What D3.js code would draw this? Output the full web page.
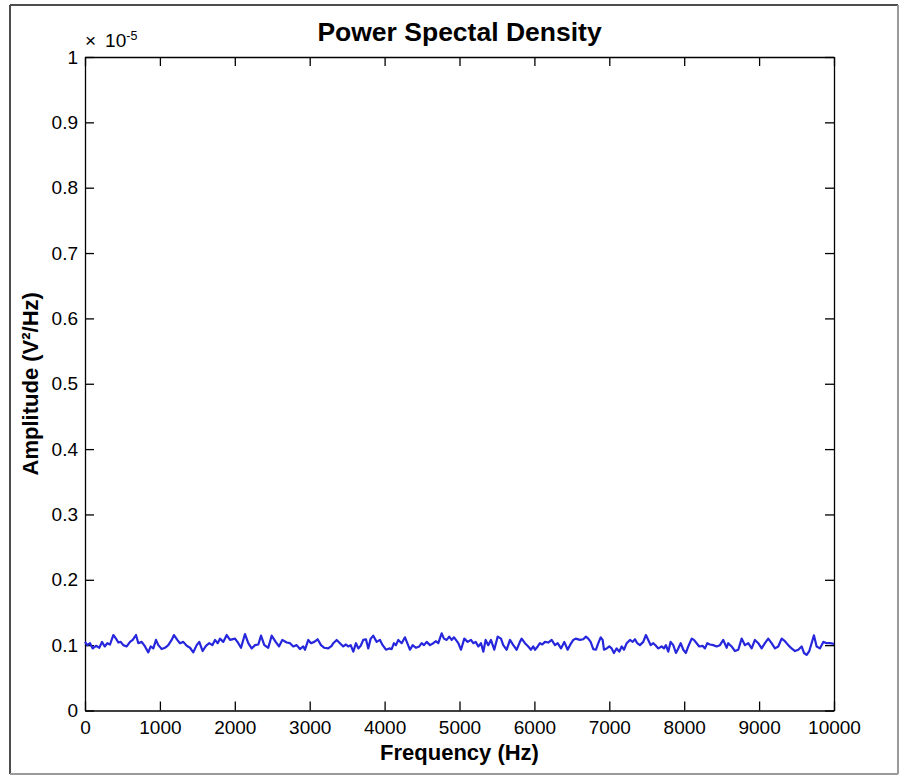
<!DOCTYPE html>
<html>
<head>
<meta charset="utf-8">
<script src="https://cdn.jsdelivr.net/npm/d3@7"></script>
<style>
  body { margin: 0; background: #fff; }
  text { font-family: Arial, "Liberation Sans", sans-serif; }
</style>
</head>
<body>
<div id="chart"></div>
<script>
// Frequency grid (Hz)
const freqHz = [
  0, 31, 67, 103, 147, 191, 227, 263, 298, 334,
  378, 414, 445, 477, 511, 557, 601, 637, 681, 712,
  757, 801, 845, 877, 912, 948, 979, 1024, 1068, 1112,
  1157, 1188, 1232, 1268, 1312, 1358, 1402, 1446, 1491, 1526,
  1571, 1615, 1659,
  1700, 1736, 1772, 1802, 1846, 1892, 1936, 2003, 2047, 2083,
  2136, 2180, 2225, 2270, 2314, 2350, 2394, 2447, 2492, 2546,
  2590, 2634, 2693, 2737, 2781, 2826, 2870, 2914, 2937, 2981,
  3017, 3061, 3106, 3151, 3195, 3248, 3293,
  3315, 3360, 3404, 3448, 3484, 3515, 3547, 3582, 3618, 3649,
  3681, 3715, 3751, 3782, 3814, 3849, 3894, 3938, 3974, 4018,
  4062, 4094, 4125, 4152, 4183, 4228, 4272, 4303, 4339, 4375,
  4419, 4463, 4495, 4526, 4562, 4606, 4650, 4686, 4717, 4762,
  4793, 4829, 4863, 4895, 4926,
  4940, 4984, 5020, 5064, 5109, 5153, 5184, 5216, 5251, 5287,
  5318, 5349, 5384, 5420, 5464, 5510, 5554, 5584, 5630, 5674,
  5718, 5763, 5807, 5830, 5874, 5918, 5954, 5985, 6008, 6044,
  6074, 6105, 6141, 6185, 6230, 6275, 6311, 6355, 6399, 6444,
  6475, 6519, 6551,
  6608, 6652, 6688, 6719, 6751, 6786, 6822, 6853, 6885, 6911,
  6929, 6965, 7000, 7031, 7062, 7098, 7133, 7165, 7196, 7232,
  7276, 7312, 7343, 7373, 7409, 7453, 7489, 7520, 7552, 7587,
  7623, 7654, 7699, 7730, 7756, 7787, 7819, 7854, 7890, 7921,
  7953, 7988, 8023, 8054, 8100, 8130, 8166, 8201, 8246, 8277,
  8308, 8344,
  8388, 8433, 8477, 8521, 8567, 8588, 8633, 8678, 8722, 8767,
  8811, 8855, 8901, 8944, 8989, 9034, 9078, 9122, 9167, 9212,
  9256, 9301, 9345, 9389, 9434, 9479, 9523, 9568, 9599, 9635,
  9670, 9701, 9732, 9768, 9812, 9857, 9902, 9946, 10000
];

// PSD in units of 1e-5 V^2/Hz
const psd = [
  0.105, 0.100, 0.103, 0.095, 0.099, 0.096, 0.105, 0.098, 0.103, 0.101,
  0.1155, 0.110, 0.104, 0.105, 0.100, 0.098, 0.105, 0.108, 0.1155, 0.103,
  0.105, 0.098, 0.089, 0.098, 0.095, 0.108, 0.100, 0.094, 0.096, 0.100,
  0.108, 0.1155, 0.108, 0.103, 0.105, 0.099, 0.096, 0.089, 0.100, 0.105,
  0.091, 0.099, 0.103,
  0.100, 0.108, 0.103, 0.110, 0.105, 0.1155, 0.108, 0.110, 0.103, 0.096,
  0.117, 0.103, 0.095, 0.100, 0.101, 0.1145, 0.100, 0.096, 0.1145, 0.105,
  0.098, 0.108, 0.104, 0.103, 0.098, 0.100, 0.094, 0.098, 0.093, 0.108,
  0.103, 0.105, 0.109, 0.100, 0.096, 0.095, 0.099,
  0.103, 0.108, 0.103, 0.098, 0.101, 0.098, 0.100, 0.090, 0.103, 0.095,
  0.099, 0.108, 0.109, 0.095, 0.110, 0.1145, 0.105, 0.108, 0.100, 0.093,
  0.095, 0.094, 0.103, 0.100, 0.108, 0.103, 0.112, 0.103, 0.093, 0.100,
  0.096, 0.098, 0.103, 0.100, 0.105, 0.100, 0.103, 0.106, 0.103, 0.118,
  0.110, 0.108, 0.113, 0.108, 0.112,
  0.110, 0.103, 0.093, 0.110, 0.105, 0.108, 0.103, 0.105, 0.098, 0.103,
  0.090, 0.108, 0.100, 0.108, 0.093, 0.113, 0.110, 0.100, 0.093, 0.108,
  0.100, 0.093, 0.105, 0.110, 0.103, 0.098, 0.093, 0.098, 0.093, 0.098,
  0.103, 0.101, 0.105, 0.104, 0.108, 0.100, 0.103, 0.095, 0.105, 0.093,
  0.100, 0.108, 0.110,
  0.108, 0.109, 0.113, 0.110, 0.105, 0.094, 0.093, 0.103, 0.112, 0.108,
  0.093, 0.095, 0.098, 0.095, 0.088, 0.095, 0.090, 0.098, 0.093, 0.103,
  0.108, 0.105, 0.109, 0.103, 0.100, 0.105, 0.1155, 0.108, 0.100, 0.103,
  0.099, 0.095, 0.098, 0.095, 0.100, 0.090, 0.105, 0.100, 0.088, 0.095,
  0.103, 0.093, 0.088, 0.098, 0.110, 0.108, 0.103, 0.098, 0.099, 0.095,
  0.103, 0.101,
  0.100, 0.098, 0.100, 0.108, 0.096, 0.103, 0.098, 0.091, 0.093, 0.110,
  0.100, 0.103, 0.095, 0.108, 0.103, 0.095, 0.103, 0.110, 0.103, 0.095,
  0.098, 0.110, 0.106, 0.100, 0.095, 0.091, 0.093, 0.098, 0.088, 0.085,
  0.091, 0.103, 0.115, 0.098, 0.095, 0.105, 0.103, 0.103, 0.102
];

const xTicks = [0, 1000, 2000, 3000, 4000, 5000, 6000, 7000, 8000, 9000, 10000];
const yTicks = [0, 0.1, 0.2, 0.3, 0.4, 0.5, 0.6, 0.7, 0.8, 0.9, 1];

const data = freqHz.map((f, i) => ({ f: f, v: psd[i] }));

// Dimensions
const W = 901, H = 775;
const margin = { top: 57, right: 67, bottom: 64.5, left: 85 };
const width = W - margin.left - margin.right;
const height = H - margin.top - margin.bottom;

const svg = d3.select("#chart")
    .append("svg")
    .attr("width", W)
    .attr("height", H);

// figure border
svg.append("line").attr("x1", 10).attr("y1", 5).attr("x2", 10).attr("y2", 774)
    .attr("stroke", "#4d4d4d").attr("stroke-width", 2);
svg.append("line").attr("x1", 10).attr("y1", 5).attr("x2", 898).attr("y2", 5)
    .attr("stroke", "#4d4d4d").attr("stroke-width", 2);
svg.append("line").attr("x1", 898).attr("y1", 5).attr("x2", 898).attr("y2", 774)
    .attr("stroke", "#9a9a9a").attr("stroke-width", 2);
svg.append("line").attr("x1", 10).attr("y1", 774).attr("x2", 898).attr("y2", 774)
    .attr("stroke", "#9a9a9a").attr("stroke-width", 2);

const g = svg.append("g")
    .attr("transform", `translate(${margin.left},${margin.top})`);

// Scales
const x = d3.scaleLinear().domain([0, 10000]).range([0, width]);
const y = d3.scaleLinear().domain([0, 1]).range([height, 0]);

// Axes (ticks pointing inward, like the original)
g.append("g")
    .attr("transform", `translate(0,${height})`)
    .call(d3.axisBottom(x).tickValues(xTicks).tickFormat(d3.format("d"))
        .tickSizeInner(-9).tickSizeOuter(0).tickPadding(10));

g.append("g")
    .call(d3.axisLeft(y).tickValues(yTicks).tickFormat(d => d === 0 || d === 1 ? d3.format("d")(d) : d3.format(".1f")(d))
        .tickSizeInner(-9).tickSizeOuter(0).tickPadding(7));

g.append("g")
    .call(d3.axisTop(x).tickValues(xTicks).tickFormat("")
        .tickSizeInner(-9).tickSizeOuter(0));

g.append("g")
    .attr("transform", `translate(${width},0)`)
    .call(d3.axisRight(y).tickValues(yTicks).tickFormat("")
        .tickSizeInner(-9).tickSizeOuter(0));

g.selectAll(".domain").attr("stroke", "#000").attr("stroke-width", 1.3);
g.selectAll(".tick line").attr("stroke", "#000").attr("stroke-width", 1.3);
g.selectAll(".tick text")
    .attr("fill", "#000")
    .style("font-size", "19px")
    .style("font-family", "Arial, 'Liberation Sans', sans-serif");

// The data line
const line = d3.line()
    .x(d => x(d.f))
    .y(d => y(d.v));

g.append("path")
    .datum(data)
    .attr("fill", "none")
    .attr("stroke", "#2626dc")
    .attr("stroke-width", 2.2)
    .attr("stroke-linejoin", "round")
    .attr("d", line);

// Exponent note above y axis
const expo = g.append("text")
    .attr("x", 0)
    .attr("y", -10)
    .style("font-size", "19px")
    .attr("fill", "#000");
expo.append("tspan").text("×");
expo.append("tspan").attr("dx", 9).text("10");
expo.append("tspan")
    .attr("dy", -7)
    .style("font-size", "12.5px")
    .text("-5");

// Title
svg.append("text")
    .attr("x", margin.left + width / 2)
    .attr("y", 41)
    .attr("text-anchor", "middle")
    .style("font-size", "26.5px")
    .style("font-weight", "bold")
    .text("Power Spectal Density");

// Axis labels
svg.append("text")
    .attr("x", margin.left + width / 2)
    .attr("y", 760)
    .attr("text-anchor", "middle")
    .style("font-size", "22px")
    .style("font-weight", "bold")
    .text("Frequency (Hz)");

svg.append("text")
    .attr("transform", `translate(38,${margin.top + height / 2}) rotate(-90)`)
    .attr("text-anchor", "middle")
    .style("font-size", "22px")
    .style("font-weight", "bold")
    .text("Amplitude (V²/Hz)");
</script>
</body>
</html>
